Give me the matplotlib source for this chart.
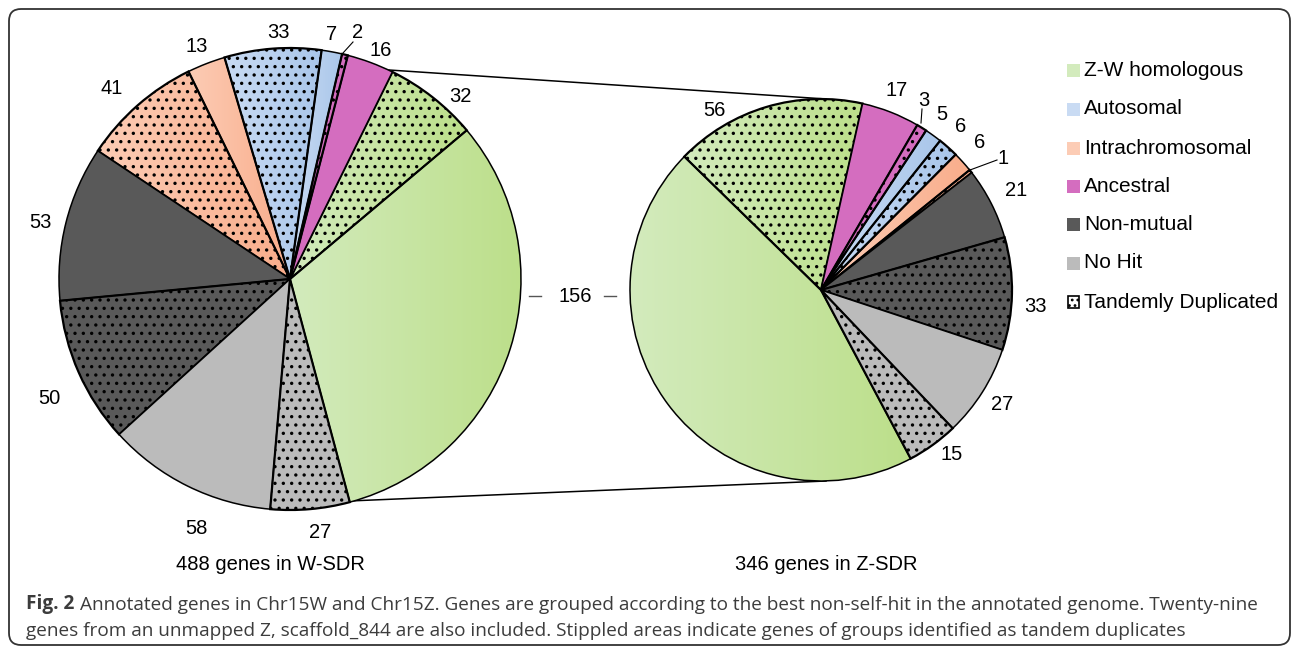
import numpy as np
import matplotlib
matplotlib.use("Agg")
import matplotlib.pyplot as plt
from matplotlib.patches import Rectangle, FancyBboxPatch
from matplotlib.colors import LinearSegmentedColormap

W, H = 1295, 649

# categories (legend order) and colours
groups = ['Z-W homologous', 'Autosomal', 'Intrachromosomal', 'Ancestral', 'Non-mutual', 'No Hit']
base_col = {'Z-W homologous': '#bcdf8a', 'Autosomal': '#a9c6ea', 'Intrachromosomal': '#f9ad8b',
            'Ancestral': '#d46dbf', 'Non-mutual': '#595959', 'No Hit': '#bbbbbb'}
light_col = {'Z-W homologous': '#d3ebbd', 'Autosomal': '#c9dbf3', 'Intrachromosomal': '#fcccb5'}

# slice order (same for both pies): plain / tandem per group
slice_groups = ['Z-W homologous', 'Z-W homologous', 'Ancestral', 'Ancestral', 'Autosomal', 'Autosomal',
                'Intrachromosomal', 'Intrachromosomal', 'Non-mutual', 'Non-mutual', 'No Hit', 'No Hit']
slice_tandem = [False, True] * 6

w_counts = [156, 32, 16, 2, 7, 33, 13, 41, 53, 50, 58, 27]   # W-SDR, 488 genes
z_counts = [156, 56, 17, 3, 5, 6, 6, 1, 21, 33, 27, 15]      # Z-SDR, 346 genes

# label positions in pixels (x, y from top)
w_label_pos = [None, (460, 97), (381, 51), (358, 33), (332, 34), (278, 33), (197, 47),
               (112, 88), (40, 223), (49, 398), (196, 528), (320, 532)]
z_label_pos = [None, (714, 110), (897, 91), (924, 100), (942, 114), (961, 127), (980, 142),
               (1003, 158), (1016, 190), (1035, 306), (1002, 405), (952, 454)]

plt.rcParams['hatch.linewidth'] = 1.2
plt.rcParams['font.family'] = ['Liberation Sans', 'DejaVu Sans']

fig = plt.figure(figsize=(W / 100, H / 100), dpi=100)
ax = fig.add_axes([0, 0, 1, 1])


def Y(yp):
    return H - yp


def shade(wedge, c_light, c_base):
    th = np.radians(np.linspace(wedge.theta1, wedge.theta2, 90))
    cx, cy = wedge.center
    xs = np.r_[cx, cx + wedge.r * np.cos(th)]
    ys = np.r_[cy, cy + wedge.r * np.sin(th)]
    grad = np.linspace(0, 1, 256)[None, :]
    cmap = LinearSegmentedColormap.from_list('g', [c_light, c_base])
    im = ax.imshow(grad, extent=[xs.min(), xs.max(), ys.min(), ys.max()], cmap=cmap,
                   aspect='auto', origin='lower', interpolation='bilinear', zorder=1.5)
    im.set_clip_path(wedge)
    wedge.set_facecolor('none')


def draw_pie(counts, center, radius, start, ccw):
    cols = [base_col[g] for g in slice_groups]
    hatches = ['..' if t else '' for t in slice_tandem]
    wedges, _ = ax.pie(counts, center=center, radius=radius, startangle=start, counterclock=ccw,
                       colors=cols, hatch=hatches, frame=True,
                       wedgeprops=dict(edgecolor='black', linewidth=1.1, zorder=2))
    for w, g, t in zip(wedges, slice_groups, slice_tandem):
        w.set_linewidth(1.6 if t else 1.1)
        if g in light_col:
            shade(w, light_col[g], base_col[g])
    return wedges


lc, lr = (290, Y(279)), 231
rc, rr = (821, Y(290)), 191
draw_pie(w_counts, lc, lr, -75, True)
draw_pie(z_counts, rc, rr, -62, False)

# connector lines between the pies
ax.plot([389, 826], [Y(70), Y(99)], color='black', lw=1.1, zorder=1)
ax.plot([349, 826], [Y(501), Y(481)], color='black', lw=1.1, zorder=1)

lab_kw = dict(fontsize=14.5, ha='center', va='center', color='black')
for v, p in zip(w_counts, w_label_pos):
    if p is not None:
        ax.text(p[0], Y(p[1]), str(v), **lab_kw)
for v, p in zip(z_counts, z_label_pos):
    if p is not None:
        ax.text(p[0], Y(p[1]), str(v), **lab_kw)

# shared 156 label with dashes
ax.text(575, Y(296), str(w_counts[0]), **lab_kw)
ax.plot([529, 541], [Y(296), Y(296)], color='#555555', lw=1)
ax.plot([604, 616], [Y(296), Y(296)], color='#555555', lw=1)

# leader lines for the small slices
ax.plot([343, 353], [Y(53), Y(42)], color='black', lw=0.8)
ax.plot([921, 922], [Y(123), Y(109)], color='black', lw=0.8)
ax.plot([970, 997], [Y(170), Y(160)], color='black', lw=0.8)

ax.text(270, Y(565), f'{sum(w_counts)} genes in W-SDR', **lab_kw)
ax.text(826, Y(565), f'{sum(z_counts)} genes in Z-SDR', **lab_kw)

# legend
leg_y = [70, 109, 148, 186, 224, 263, 302]
for g, yy in zip(groups, leg_y):
    ax.add_patch(Rectangle((1067, Y(yy) - 6.5), 13, 13, facecolor=light_col.get(g, base_col[g]),
                           edgecolor='none'))
    ax.text(1084, Y(yy), g, fontsize=15, va='center', ha='left')
ax.add_patch(Rectangle((1068, Y(leg_y[-1]) - 6), 11, 12, facecolor='white', edgecolor='black',
                       lw=1.2, hatch='...'))
ax.text(1084, Y(leg_y[-1]), 'Tandemly Duplicated', fontsize=15, va='center', ha='left')

# caption
cap_kw = dict(family=['Open Sans', 'DejaVu Sans'], fontsize=13.7, color='#3c3c3c', va='baseline')
t0 = ax.text(26, Y(609), 'Fig. 2', fontweight='bold', **cap_kw)
ax.annotate('Annotated genes in Chr15W and Chr15Z. Genes are grouped according to the best '
            'non-self-hit in the annotated genome. Twenty-nine',
            xy=(1, 0), xycoords=t0, xytext=(4, 0), textcoords='offset points',
            family=['Open Sans', 'DejaVu Sans'], fontsize=13.7, color='#3c3c3c', va='bottom')
ax.text(26, Y(636), 'genes from an unmapped Z, scaffold_844 are also included. Stippled areas '
        'indicate genes of groups identified as tandem duplicates', **cap_kw)

# rounded frame
ax.add_patch(FancyBboxPatch((9, 4), 1281, 636, boxstyle='round,pad=0,rounding_size=12',
                            facecolor='none', edgecolor='#333333', lw=1.3, zorder=5))

ax.set_xlim(0, W)
ax.set_ylim(0, H)
ax.axis('off')
fig.savefig('out.png', dpi=100)
